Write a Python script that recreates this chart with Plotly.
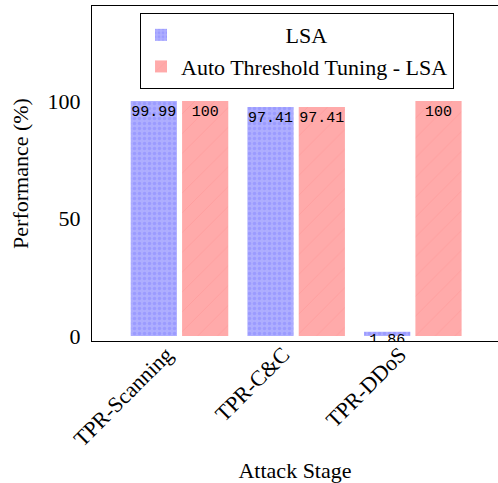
import plotly.graph_objects as go

categories = ["TPR-Scanning", "TPR-C&C", "TPR-DDoS"]
lsa_values = [99.99, 97.41, 1.86]
auto_values = [100, 97.41, 100]
lsa_labels = ["99.99", "97.41", "1.86"]
auto_labels = ["100", "97.41", "100"]
y_ticks = [0, 50, 100]

serif = "Liberation Serif"
mono = "Liberation Mono"
NB = "\u00a0"
FS = 22

fig = go.Figure()
fig.add_trace(go.Bar(
    x=categories, y=lsa_values, name=NB * 19 + "LSA",
    text=lsa_labels, textposition="inside", insidetextanchor="end",
    textangle=0, constraintext="none",
    insidetextfont=dict(family=mono, size=15, color="black"),
    marker=dict(color="#aaaaff", line=dict(width=0),
                pattern=dict(shape=".", fgcolor="#8888ff", bgcolor="#aeaeff",
                             size=5, solidity=0.4)),
    legendgroup="a",
))
fig.add_trace(go.Bar(
    x=categories, y=auto_values, name="Auto Threshold Tuning - LSA",
    text=auto_labels, textposition="inside", insidetextanchor="end",
    textangle=0, constraintext="none",
    insidetextfont=dict(family=mono, size=15, color="black"),
    marker=dict(color="#ffaaaa", line=dict(width=0),
                pattern=dict(shape="/", fgcolor="#ff9494", bgcolor="#ffaaaa",
                             size=14, solidity=0.07)),
    legendgroup="b",
))

fig.update_layout(
    width=498, height=483,
    margin=dict(l=92, r=0, t=6, b=142),
    plot_bgcolor="white", paper_bgcolor="white",
    font=dict(family=serif, size=FS, color="black"),
    barmode="group", bargap=0.12, bargroupgap=0.1,
    showlegend=True,
    legend=dict(x=0.505, y=0.979, xanchor="center", yanchor="top",
                bordercolor="black", borderwidth=1, bgcolor="white",
                font=dict(family=serif, size=FS),
                tracegroupgap=0, traceorder="grouped"),
    xaxis=dict(showline=True, linecolor="black", linewidth=1, mirror=True,
               ticks="", tickangle=-45, range=[-0.75, 2.73], automargin=False,
               ticklabelstandoff=-9, ticklabelshift=-13,
               title=dict(text="Attack Stage", standoff=20,
                          font=dict(family=serif, size=FS)),
               tickfont=dict(family=serif, size=FS)),
    yaxis=dict(showline=True, linecolor="black", linewidth=1, automargin=False,
               ticks="", showgrid=False, zeroline=False,
               range=[-2.1, 140.4], tickvals=y_ticks,
               ticklabelstandoff=6,
               title=dict(text="Performance (%)", standoff=12,
                          font=dict(family=serif, size=FS)),
               tickfont=dict(family=serif, size=FS)),
)

fig.write_html("out.html", config={"displayModeBar": False},
               post_script="document.body.style.margin='0';")
